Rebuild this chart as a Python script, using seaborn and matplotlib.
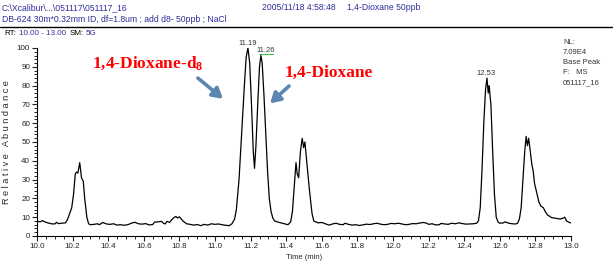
import numpy as np
import pandas as pd
import matplotlib
matplotlib.use("Agg")
import matplotlib.pyplot as plt
import seaborn as sns
from matplotlib.ticker import MultipleLocator
from matplotlib.lines import Line2D

# chromatogram trace (time in min, relative abundance %)
time_min = [
    10.00, 10.02, 10.03, 10.045, 10.06, 10.08, 10.10, 10.11, 10.12, 10.14, 10.16, 10.17,
    10.18, 10.195, 10.205, 10.215, 10.222, 10.23, 10.24, 10.25, 10.26, 10.268, 10.28, 10.29,
    10.30, 10.32, 10.34, 10.35, 10.37, 10.39, 10.41, 10.43, 10.45, 10.47, 10.49, 10.51,
    10.53, 10.55, 10.57, 10.59, 10.61, 10.63, 10.65, 10.66, 10.68, 10.70, 10.71, 10.72,
    10.73, 10.745, 10.755, 10.77, 10.78, 10.79, 10.80, 10.82, 10.84, 10.86, 10.88, 10.90,
    10.92, 10.94, 10.96, 10.98, 11.00, 11.02, 11.04, 11.06, 11.08, 11.095, 11.11, 11.12,
    11.135, 11.15, 11.165, 11.175, 11.185, 11.195, 11.205, 11.215, 11.222, 11.23, 11.24, 11.25,
    11.258, 11.265, 11.275, 11.285, 11.295, 11.305, 11.315, 11.325, 11.335, 11.35, 11.37, 11.39,
    11.41, 11.425, 11.435, 11.445, 11.455, 11.462, 11.47, 11.48, 11.49, 11.498, 11.505, 11.515,
    11.53, 11.545, 11.555, 11.565, 11.58, 11.60, 11.62, 11.64, 11.66, 11.68, 11.70, 11.72,
    11.73, 11.75, 11.77, 11.79, 11.81, 11.83, 11.85, 11.87, 11.89, 11.91, 11.93, 11.95,
    11.97, 11.99, 12.01, 12.03, 12.05, 12.07, 12.09, 12.11, 12.13, 12.15, 12.17, 12.19,
    12.20, 12.22, 12.24, 12.26, 12.27, 12.29, 12.31, 12.33, 12.35, 12.37, 12.39, 12.41,
    12.43, 12.45, 12.47, 12.48, 12.49, 12.50, 12.51, 12.52, 12.528, 12.535, 12.54, 12.55,
    12.56, 12.57, 12.58, 12.59, 12.60, 12.62, 12.63, 12.65, 12.67, 12.69, 12.70, 12.71,
    12.72, 12.73, 12.74, 12.748, 12.755, 12.762, 12.77, 12.78, 12.787, 12.795, 12.805, 12.815,
    12.82, 12.83, 12.845, 12.855, 12.87, 12.88, 12.89, 12.91, 12.94, 12.955, 12.965, 12.975,
    12.99, 13.00,
]
abundance = [
    7.8, 7.6, 8.2, 7.5, 7.0, 6.5, 6.4, 7.3, 6.6, 6.8, 7.0, 8.5,
    11, 15, 22, 33, 34, 33.5, 39, 31, 29, 20, 10, 6.5,
    6.0, 6.2, 6.5, 6.0, 7.2, 6.4, 6.2, 6.5, 5.8, 6.0, 5.7, 6.0,
    6.8, 7.3, 6.5, 6.3, 6.6, 5.9, 6.1, 7.4, 7.5, 7.8, 6.8, 6.4,
    7.8, 7.2, 8.5, 9.8, 10.4, 9.6, 10.2, 8.0, 6.5, 6.2, 5.8, 6.1,
    5.5, 6.2, 5.8, 6.5, 6.2, 6.4, 6.0, 5.7, 5.5, 6.5, 9, 14,
    30, 55, 80, 95, 100, 92, 70, 45, 36, 48, 70, 90,
    96, 92, 75, 55, 35, 20, 13, 9.5, 8, 7.5, 7.0, 6.5,
    6.0, 7.5, 13, 26, 39, 33, 31, 45, 52, 47, 50, 40,
    25, 12, 8, 7.5, 7.0, 7.2, 6.5, 5.8, 6.4, 6.8, 6.2, 6.0,
    6.8, 6.2, 5.8, 6.0, 5.6, 5.9, 6.3, 6.1, 6.5, 6.8, 6.3, 6.0,
    6.2, 6.7, 6.5, 6.8, 6.4, 6.0, 6.2, 6.6, 6.5, 6.9, 7.2, 6.8,
    6.2, 6.5, 5.9, 6.0, 6.7, 6.4, 6.2, 6.8, 6.5, 7.0, 6.6, 6.3,
    6.4, 6.5, 6.8, 8, 15, 35, 60, 78, 84, 76, 80, 70,
    45, 22, 10, 7.5, 6.8, 7.0, 7.5, 6.8, 6.5, 6.4, 6.8, 9,
    15, 30, 45, 53, 48, 52, 46, 38, 35, 28, 24, 20,
    18, 16, 15, 13, 11, 10.5, 9.8, 9.5, 9.0, 9.5, 10.0, 8.0,
    7.2, 7.0,
]

peak_labels = ["11.19", "11.26", "12.53"]
peak_label_x = [11.185, 11.286, 12.52]
peak_label_y = [102.5, 98.5, 86.5]

header_blue = "#2e2e9a"

plt.rcParams["figure.dpi"] = 100
sns.set_style("ticks")
plt.rcParams["font.family"] = ["Liberation Sans", "DejaVu Sans"]
plt.rcParams["mathtext.fontset"] = "custom"
plt.rcParams["mathtext.rm"] = "Liberation Serif:bold"
plt.rcParams["mathtext.bf"] = "Liberation Serif:bold"
plt.rcParams["mathtext.it"] = "Liberation Serif:bold"

fig = plt.figure(figsize=(6.13, 2.69))
ax = fig.add_axes([37 / 613, 1 - 236 / 269, (571 - 37) / 613, (236 - 48) / 269])

df = pd.DataFrame({"time": time_min, "abund": abundance})
sns.lineplot(data=df, x="time", y="abund", ax=ax, color="black", lw=0.9,
             sort=False, estimator=None)

ax.set_xlim(10.0, 13.0)
ax.set_ylim(0, 100)
ax.xaxis.set_major_locator(MultipleLocator(0.2))
ax.xaxis.set_minor_locator(MultipleLocator(0.05))
ax.yaxis.set_major_locator(MultipleLocator(10))
ax.yaxis.set_minor_locator(MultipleLocator(2))
ax.xaxis.set_major_formatter(matplotlib.ticker.FormatStrFormatter("%.1f"))
ax.tick_params(which="major", length=3.5, width=0.8, labelsize=5.8, pad=1.5, colors="#222222")
ax.tick_params(which="minor", length=2, width=0.7)
sns.despine(ax=ax)
for s in ["left", "bottom"]:
    ax.spines[s].set_linewidth(0.8)
    ax.spines[s].set_color("black")

ax.set_xlabel("Time (min)", fontsize=5.5, labelpad=3)
ax.set_ylabel("R e l a t i v e   A b u n d a n c e", fontsize=6.6, labelpad=4)

# peak labels
for lab, px, py in zip(peak_labels, peak_label_x, peak_label_y):
    ax.text(px, py, lab, fontsize=5.5, ha="center", va="center", color="#333333")
ax.plot([11.247, 11.326], [96.8, 96.8], color="#44bb44", lw=0.8)

# compound labels and arrows
ax.text(10.31, 92, "1,4-Dioxane-d$_8$", fontsize=12.5, color="red", ha="left", va="center",
        family="Liberation Serif", fontweight="bold")
ax.text(11.393, 86.7, "1,4-Dioxane", fontsize=12.5, color="red", ha="left", va="center",
        family="Liberation Serif", fontweight="bold")
arrow = dict(arrowstyle="-|>,head_length=0.6,head_width=0.35", lw=2.6, color="#5b86b0",
             shrinkA=0, shrinkB=0, mutation_scale=10)
ax.annotate("", xy=(11.045, 73), xytext=(10.904, 84), arrowprops=arrow)
ax.annotate("", xy=(11.309, 70.5), xytext=(11.416, 79.8), arrowprops=arrow)

# header block
fs = 6.2
fig.text(2 / 613, 1 - 8 / 269, r"C:\Xcalibur\...\051117\051117_16", fontsize=fs,
         color=header_blue, va="center")
fig.text(262 / 613, 1 - 8 / 269, "2005/11/18 4:58:48", fontsize=fs, color=header_blue, va="center")
fig.text(347 / 613, 1 - 8 / 269, "1,4-Dioxane 50ppb", fontsize=fs, color=header_blue, va="center")
fig.text(2 / 613, 1 - 19 / 269, "DB-624 30m*0.32mm ID, df=1.8um ; add d8- 50ppb ; NaCl",
         fontsize=fs, color=header_blue, va="center")
fig.add_artist(Line2D([0, 1], [1 - 26.5 / 269] * 2, color="black", lw=1.0))

rt_y = 1 - 33.5 / 269
fig.text(4 / 613, rt_y, "RT:", fontsize=5.8, color="black", va="center")
fig.text(19 / 613, rt_y, "10.00 - 13.00", fontsize=5.8, color=header_blue, va="center")
fig.text(70 / 613, rt_y, "SM:", fontsize=5.8, color="black", va="center")
fig.text(86 / 613, rt_y, "5G", fontsize=5.8, color=header_blue, va="center")

# right info block
info = ["NL:", "7.09E4", "Base Peak", "F:   MS", "051117_16"]
for i, t in enumerate(info):
    fig.text(563 / 613, 1 - (42 + i * 10.3) / 269, t, fontsize=5.5, color="#333333", va="center")

fig.savefig("out.png", dpi=100)
